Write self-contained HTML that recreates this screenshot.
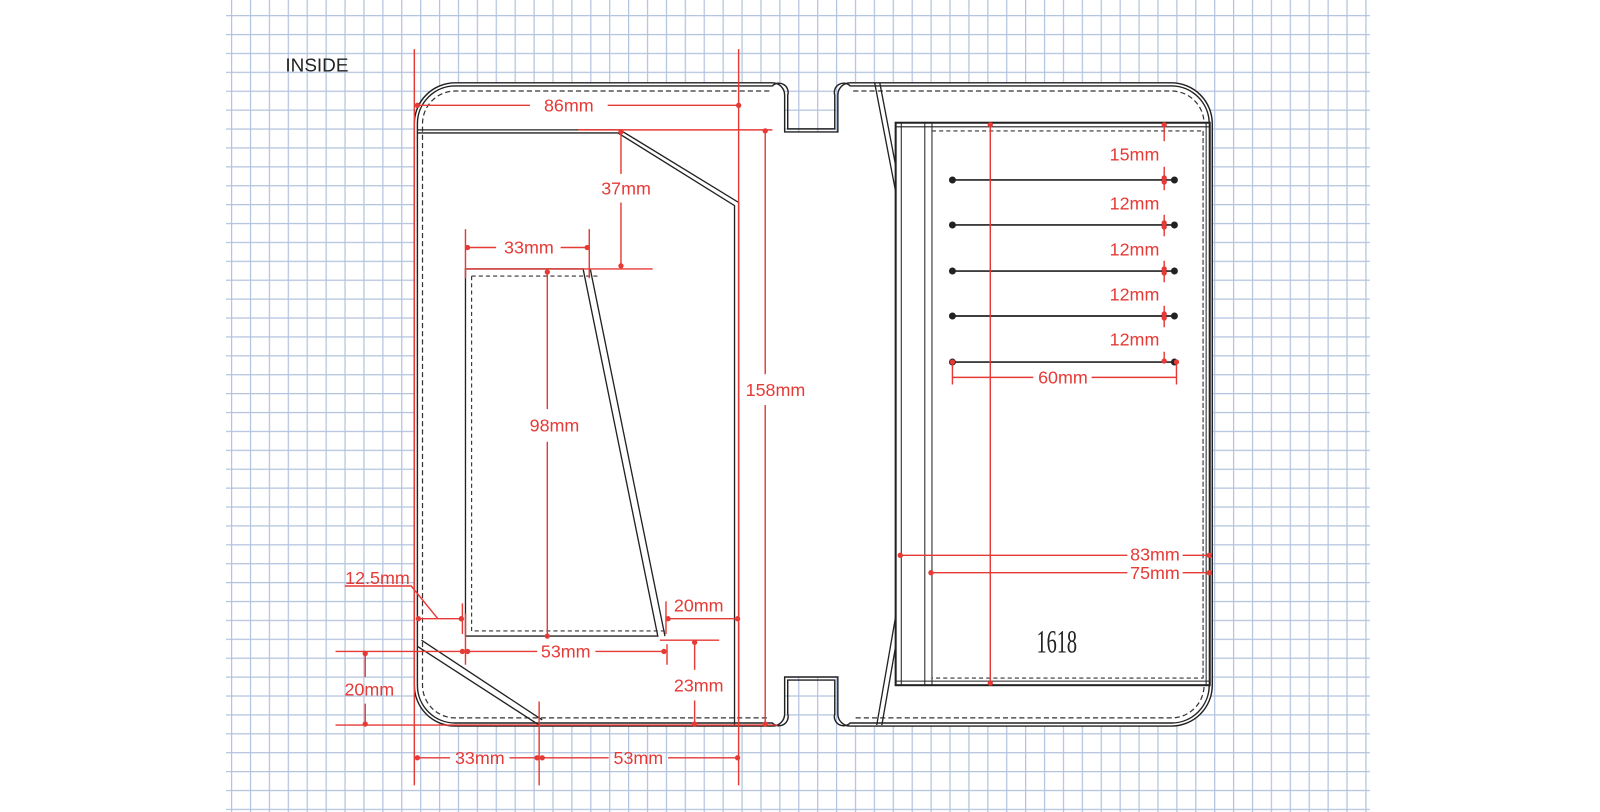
<!DOCTYPE html>
<html><head><meta charset="utf-8"><style>
html,body{margin:0;padding:0;background:#fff;}
svg{display:block;}
text{font-family:"Liberation Sans","DejaVu Sans",sans-serif;}
</style></head><body>
<svg width="1600" height="812" viewBox="0 0 1564 794" preserveAspectRatio="none" xmlns="http://www.w3.org/2000/svg">
<defs>
<pattern id="g" x="225.8" y="14.7" width="18.48" height="18.48" patternUnits="userSpaceOnUse">
<path d="M0.5 0V18.48M0 0.5H18.48" stroke="#b3c3de" stroke-width="1.4" fill="none"/>
</pattern>
</defs>
<rect x="221" y="0" width="1118" height="794" fill="url(#g)"/>
<text x="279" y="70" font-size="18.5" fill="#222">INSIDE</text>

<!-- outline -->
<g fill="#fff" stroke="#222" stroke-width="1.4">
<path d="M445 81H755A12 12 0 0 1 767 93V129H819V93A12 12 0 0 1 831 81H1145A40 40 0 0 1 1185 121V670A40 40 0 0 1 1145 710H831A12 12 0 0 1 819 698V662H767V698A12 12 0 0 1 755 710H445A40 40 0 0 1 405 670V121A40 40 0 0 1 445 81Z"/>
<path fill="none" d="M445 84H755A9 9 0 0 1 770 93V126H816V93A9 9 0 0 1 831 84H1145A37 37 0 0 1 1182 121V670A37 37 0 0 1 1145 707H831A9 9 0 0 1 816 698V665H770V698A9 9 0 0 1 755 707H445A37 37 0 0 1 408 670V121A37 37 0 0 1 445 84Z"/>
</g>
<g fill="none" stroke="#333" stroke-width="1.2" stroke-dasharray="5,3">
<path d="M752 89H445A32 32 0 0 0 413 121V670A32 32 0 0 0 445 702H752"/>
<path d="M834 89H1145A32 32 0 0 1 1177 121V670A32 32 0 0 1 1145 702H834"/>
</g>

<!-- left panel inner pieces -->
<g fill="none" stroke="#222" stroke-width="1.3">
<path d="M408 127H606L722 198V709"/>
<path d="M408 130H604L718 201V709"/>
<path d="M408 632L527 709"/>
<path d="M412 626L530 704"/>
<path d="M455 263H570L643 622H455Z"/>
<path d="M577 263L650 622"/>
</g>
<path d="M461 270H585M461 270V617H650" fill="none" stroke="#333" stroke-width="1.1" stroke-dasharray="4,3"/>

<!-- right panel -->
<g fill="none" stroke="#222">
<path d="M855 81L876 190M860 81L878 175" stroke-width="1.3"/>
<path d="M876 600L857 709M879 612L862 709" stroke-width="1.3"/>
<rect x="875.5" y="120" width="307" height="550" fill="#fff" stroke-width="2"/>
<path d="M876 124H1182M876 666H1182M881 120V670M904 120V670M911 120V670M1179 120V670" stroke-width="1"/>
</g>
<path d="M911 128H1176V663H911M1176 128V663" fill="none" stroke="#333" stroke-width="1.1" stroke-dasharray="4,3"/>
<g stroke="#222" stroke-width="1.6" fill="#222">
<line x1="930" y1="176" x2="1148" y2="176"/><circle cx="931" cy="176" r="2.6"/><circle cx="1148" cy="176" r="2.6"/>
<line x1="930" y1="220" x2="1148" y2="220"/><circle cx="931" cy="220" r="2.6"/><circle cx="1148" cy="220" r="2.6"/>
<line x1="930" y1="265" x2="1148" y2="265"/><circle cx="931" cy="265" r="2.6"/><circle cx="1148" cy="265" r="2.6"/>
<line x1="930" y1="309" x2="1148" y2="309"/><circle cx="931" cy="309" r="2.6"/><circle cx="1148" cy="309" r="2.6"/>
<line x1="930" y1="354" x2="1148" y2="354"/><circle cx="931" cy="354" r="2.6"/><circle cx="1148" cy="354" r="2.6"/>
</g>
<text x="1033" y="638" font-size="32" fill="#222" text-anchor="middle" transform="translate(1033 0) scale(0.62 1) translate(-1033 0)" style="font-family:'Liberation Serif',serif">1618</text>

<!-- red dimensions -->
<g stroke="#e63a36" stroke-width="1.4" fill="none">
<path d="M405 48V768M722 48V768"/>
<path d="M408 103H518M594 103H722"/>
<path d="M565 127H755M328 709H760"/>
<path d="M748 127V366M748 396V709"/>
<path d="M607 128V170M607 198V260M455 263H638"/>
<path d="M455 224V272M576 224V272M455 242H485M548 242H576"/>
<path d="M535 265V400M535 432V622"/>
<path d="M337 573H402L428 605M408 605H452M452 590V620"/>
<path d="M652 605H722M651 588V620"/>
<path d="M328 637H455M455 637H525M582 637H652M455 600V650M652 630V650"/>
<path d="M645 626H703M679 627V655M679 685V709"/>
<path d="M357 637V662M357 688V709"/>
<path d="M408 741H440M498 741H525M529 741H595M653 741H722M527 686V768"/>
<path d="M968 121V669"/>
<path d="M1138 120V138M1138 163V186M1138 210V231M1138 255V276M1138 299V320M1138 344V354"/>
<path d="M931 352V376M1150 352V376M931 369H1010M1067 369H1150"/>
<path d="M879 543H1102M1156 543H1182M909 560H1102M1156 560H1182"/>
</g>
<g fill="#e63a36">
<circle cx="408" cy="103" r="2.6"/><circle cx="722" cy="103" r="2.6"/>
<circle cx="748" cy="128" r="2.6"/><circle cx="748" cy="708" r="2.6"/>
<circle cx="607" cy="129" r="2.6"/><circle cx="607" cy="260" r="2.6"/>
<circle cx="457" cy="242" r="2.6"/><circle cx="574" cy="242" r="2.6"/>
<circle cx="535" cy="266" r="2.6"/><circle cx="535" cy="622" r="2.6"/>
<circle cx="409" cy="605" r="2.6"/><circle cx="451" cy="605" r="2.6"/>
<circle cx="653" cy="605" r="2.6"/><circle cx="721" cy="605" r="2.6"/>
<circle cx="452" cy="637" r="2.6"/><circle cx="457" cy="637" r="2.6"/><circle cx="649" cy="637" r="2.6"/>
<circle cx="679" cy="628" r="2.6"/><circle cx="679" cy="708" r="2.6"/>
<circle cx="357" cy="639" r="2.6"/><circle cx="357" cy="708" r="2.6"/>
<circle cx="408" cy="741" r="2.6"/><circle cx="525" cy="741" r="2.6"/><circle cx="530" cy="741" r="2.6"/><circle cx="721" cy="741" r="2.6"/>
<circle cx="968" cy="122" r="2.6"/><circle cx="968" cy="668" r="2.6"/>
<circle cx="1138" cy="122" r="2.6"/><circle cx="1138" cy="174" r="2.6"/><circle cx="1138" cy="178" r="2.6"/>
<circle cx="1138" cy="218" r="2.6"/><circle cx="1138" cy="222" r="2.6"/><circle cx="1138" cy="263" r="2.6"/><circle cx="1138" cy="267" r="2.6"/>
<circle cx="1138" cy="307" r="2.6"/><circle cx="1138" cy="311" r="2.6"/><circle cx="1138" cy="353" r="2.6"/>
<circle cx="931" cy="354" r="2.6"/><circle cx="1150" cy="354" r="2.6"/>
<circle cx="880" cy="543" r="2.6"/><circle cx="1182" cy="543" r="2.6"/><circle cx="910" cy="560" r="2.6"/><circle cx="1182" cy="560" r="2.6"/>
</g>
<g fill="#e63a36" font-size="17.5" text-anchor="middle">
<text x="556" y="109">86mm</text>
<text x="758" y="387">158mm</text>
<text x="612" y="190">37mm</text>
<text x="517" y="248">33mm</text>
<text x="542" y="422">98mm</text>
<text x="369" y="571">12.5mm</text>
<text x="683" y="598">20mm</text>
<text x="553" y="643">53mm</text>
<text x="683" y="676">23mm</text>
<text x="361" y="680">20mm</text>
<text x="469" y="747">33mm</text>
<text x="624" y="747">53mm</text>
<text x="1109" y="157">15mm</text>
<text x="1109" y="205">12mm</text>
<text x="1109" y="250">12mm</text>
<text x="1109" y="294">12mm</text>
<text x="1109" y="338">12mm</text>
<text x="1039" y="375">60mm</text>
<text x="1129" y="548">83mm</text>
<text x="1129" y="566">75mm</text>
</g>
</svg>
</body></html>
